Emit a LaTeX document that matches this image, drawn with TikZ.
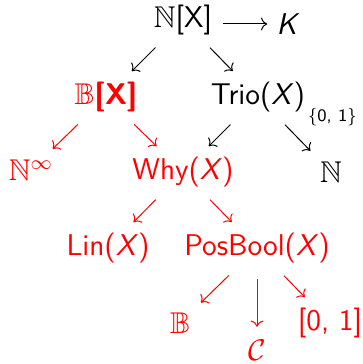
\documentclass[tikz,border=0pt]{standalone}
\usepackage{amssymb}
\usepackage{tikz}
\usetikzlibrary{arrows.meta}

\begin{document}
\begin{tikzpicture}[
    x=0.4pt, y=-0.4pt,
    font=\sffamily\large,
    semi/.style={inner sep=2pt},
    prov/.style={semi, red},
    sub/.style={->, thin, shorten <=4pt, shorten >=3pt},
    rsub/.style={sub, red}
]
\useasboundingbox (0,0) rectangle (362,364);
\node[semi] (nx) at (183,20) {$\mathbb{N}$[X]};
\node[semi] (k) at (288,24) {\textit{K}};
\draw[->, thin, shorten <=2pt, shorten >=1.5pt] (nx.east |- k.west) -- (k.west);
\node[prov] (bx) at (106,97) {$\mathbb{B}$\textbf{[X]}};
\node[semi] (trio) at (258,97) {Trio(\textit{X})};
\node[prov] (ninf) at (31,170) {$\mathbb{N}^\infty$};
\node[prov] (why) at (183,172) {Why(\textit{X})};
\node[semi] (nat) at (331,172) {$\mathbb{N}$};
\node[prov] (lin) at (108,248) {Lin(\textit{X})};
\node[prov] (posbool) at (257,248) {PosBool(\textit{X})};
\node[prov] (bool) at (180,323) {$\mathbb{B}$};
\node[prov] (circ) at (257,350) {$\mathcal{C}$};
\node[prov] (unit) at (330,323) {[0, 1]};
\draw[sub] (nx) -- (bx);
\draw[sub] (nx) -- (trio);
\draw[rsub] (bx) -- (ninf);
\draw[rsub] (bx) -- (why);
\draw[sub] (trio) -- (why);
\draw[sub] (trio) -- node[above right=1pt, font=\sffamily\scriptsize] {\{0, 1\}} (nat);
\draw[rsub] (why) -- (lin);
\draw[rsub] (why) -- (posbool);
\draw[rsub] (posbool) -- (bool);
\draw[rsub] (posbool) -- (circ);
\draw[rsub] (posbool) -- (unit);
\end{tikzpicture}
\end{document}
